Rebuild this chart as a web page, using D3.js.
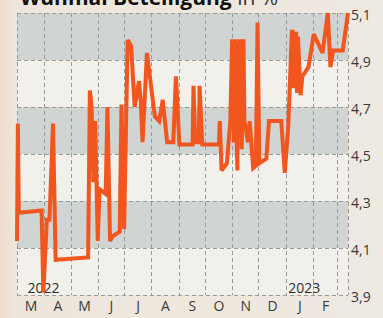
<!DOCTYPE html>
<html>
<head>
<meta charset="utf-8">
<script src="https://cdn.jsdelivr.net/npm/d3@7"></script>
<style>
  html, body { margin: 0; padding: 0; background: #eee8df; overflow: hidden; }
  svg { display: block; }
</style>
</head>
<body>
<svg id="chart" width="383" height="318"></svg>
<script>
const dates = [
  "2022-03-01", "2022-03-02", "2022-03-03", "2022-03-29", "2022-03-31", "2022-04-04", "2022-04-07",
  "2022-04-11", "2022-04-14", "2022-05-21", "2022-05-23", "2022-05-25", "2022-05-27", "2022-05-29",
  "2022-06-01", "2022-06-03", "2022-06-10", "2022-06-12", "2022-06-15", "2022-06-18", "2022-06-26",
  "2022-06-28", "2022-07-01", "2022-07-05", "2022-07-09", "2022-07-13", "2022-07-18", "2022-07-20",
  "2022-07-22", "2022-07-27", "2022-08-05", "2022-08-10", "2022-08-14", "2022-08-19", "2022-08-26",
  "2022-08-29", "2022-09-02", "2022-09-17", "2022-09-18", "2022-09-20", "2022-09-24", "2022-09-25",
  "2022-09-28", "2022-10-17", "2022-10-18", "2022-10-20", "2022-10-26", "2022-10-30", "2022-11-01",
  "2022-11-02", "2022-11-03", "2022-11-04", "2022-11-05", "2022-11-06", "2022-11-07", "2022-11-08",
  "2022-11-09", "2022-11-10", "2022-11-11", "2022-11-12", "2022-11-13", "2022-11-14", "2022-11-15",
  "2022-11-19", "2022-11-21", "2022-11-25", "2022-11-28", "2022-11-30", "2022-12-02", "2022-12-10",
  "2022-12-13", "2022-12-27", "2022-12-31", "2023-01-04", "2023-01-08", "2023-01-09", "2023-01-10",
  "2023-01-11", "2023-01-12", "2023-01-13", "2023-01-14", "2023-01-15", "2023-01-18", "2023-01-20",
  "2023-01-27", "2023-02-02", "2023-02-07", "2023-02-12", "2023-02-18", "2023-02-21", "2023-02-24",
  "2023-03-07", "2023-03-13"
];
const values = [
  4.13, 4.63, 4.25, 4.26, 3.91, 4.22, 4.22,
  4.63, 4.05, 4.06, 4.77, 4.70, 4.38, 4.64,
  4.13, 4.35, 4.33, 4.70, 4.13, 4.15, 4.17,
  4.71, 4.18, 4.985, 4.96, 4.70, 4.81, 4.72,
  4.55, 4.93, 4.66, 4.64, 4.73, 4.55, 4.55,
  4.83, 4.54, 4.54, 4.79, 4.55, 4.55, 4.79,
  4.54, 4.54, 4.64, 4.43, 4.46, 4.64, 4.98,
  4.98, 4.55, 4.98, 4.98, 4.60, 4.43, 4.98,
  4.60, 4.98, 4.98, 4.52, 4.98, 4.98, 4.64,
  4.55, 4.64, 4.44, 4.45, 5.06, 4.46, 4.48,
  4.64, 4.64, 4.42, 4.62, 5.02, 5.02, 4.78,
  5.02, 4.80, 5.02, 4.76, 5.00, 4.75, 4.83,
  4.87, 5.01, 4.97, 4.93, 5.10, 4.87, 4.94,
  4.94, 5.10
];
const monthLabels = ["M", "A", "M", "J", "J", "A", "S", "O", "N", "D", "J", "F"];
const yTicks = [3.9, 4.1, 4.3, 4.5, 4.7, 4.9, 5.1];
const bands = [[4.1, 4.3], [4.5, 4.7], [4.9, 5.1]];
const years = [{ label: "2022", date: "2022-03-13" }, { label: "2023", date: "2023-01-04" }];
const title = "Wunmal Beteiligung";
const unit = "in %";

const parse = d3.timeParse("%Y-%m-%d");
const series = dates.map((d, i) => ({ date: parse(d), value: values[i] }));

const svg = d3.select("#chart");
const font = "'Open Sans', sans-serif";

const x = d3.scaleTime()
  .domain([parse("2022-03-01"), parse("2023-03-13")])
  .range([17, 348]);
const y = d3.scaleLinear().domain([3.9, 5.1]).range([295, 13]);

// paper background, slightly warmer at the left edge
const grad = svg.append("defs").append("linearGradient").attr("id", "paper");
grad.append("stop").attr("offset", "0%").attr("stop-color", "#f1dccd");
grad.append("stop").attr("offset", "4%").attr("stop-color", "#eee6dc");
grad.append("stop").attr("offset", "100%").attr("stop-color", "#eee9e1");
svg.append("rect").attr("width", 383).attr("height", 318).attr("fill", "url(#paper)");

svg.append("rect")
  .attr("x", x.range()[0]).attr("y", y(5.1))
  .attr("width", x.range()[1] - x.range()[0]).attr("height", y(3.9) - y(5.1))
  .attr("fill", "#f2f0eb");

// shaded bands
svg.selectAll("rect.band")
  .data(bands)
  .enter().append("rect")
  .attr("class", "band")
  .attr("x", x.range()[0])
  .attr("y", d => y(d[1]))
  .attr("width", x.range()[1] - x.range()[0])
  .attr("height", d => y(d[0]) - y(d[1]))
  .attr("fill", "#d0d4d2");

// month gridlines
const monthStarts = d3.timeMonth.range(parse("2022-03-01"), parse("2023-03-02"));
const grid = svg.append("g")
  .attr("stroke", "#9a9a9a")
  .attr("stroke-width", 1)
  .attr("stroke-dasharray", "4,3");

grid.selectAll("line.v")
  .data(monthStarts.concat([x.domain()[1]]))
  .enter().append("line")
  .attr("x1", d => Math.round(x(d)) + 0.5)
  .attr("x2", d => Math.round(x(d)) + 0.5)
  .attr("y1", y(5.1))
  .attr("y2", y(3.9));

grid.selectAll("line.h")
  .data(yTicks)
  .enter().append("line")
  .attr("x1", x.range()[0])
  .attr("x2", x.range()[1])
  .attr("y1", d => Math.round(y(d)) + 0.5)
  .attr("y2", d => Math.round(y(d)) + 0.5);

// right axis labels
svg.append("g")
  .attr("transform", "translate(350,0)")
  .call(d3.axisRight(y).tickValues(yTicks).tickSize(0).tickPadding(1)
    .tickFormat(d => d3.format(".1f")(d).replace(".", ",")))
  .call(g => g.select(".domain").remove())
  .call(g => g.selectAll("text")
    .attr("dy", "0.45em")
    .attr("font-family", font)
    .attr("font-size", "14px")
    .attr("fill", "#3a3a3a"));

// month labels, centered in each month
const monthMids = monthStarts.slice(0, monthLabels.length)
  .map(m => new Date((+m + +d3.timeMonth.offset(m, 1)) / 2));
svg.append("g")
  .attr("transform", "translate(0,297)")
  .call(d3.axisBottom(x).tickValues(monthMids).tickSize(0).tickPadding(4)
    .tickFormat((d, i) => monthLabels[i]))
  .call(g => g.select(".domain").remove())
  .call(g => g.selectAll("text")
    .attr("font-family", font)
    .attr("font-size", "14px")
    .attr("fill", "#3a3a3a"));

// year labels
svg.selectAll("text.year")
  .data(years)
  .enter().append("text")
  .attr("x", d => x(parse(d.date)))
  .attr("y", 293)
  .attr("font-family", font)
  .attr("font-size", "14px")
  .attr("fill", "#2e2e2e")
  .text(d => d.label);

// line
const line = d3.line()
  .x(d => x(d.date))
  .y(d => y(d.value));

svg.append("path")
  .datum(series)
  .attr("d", line)
  .attr("fill", "none")
  .attr("stroke", "#f1561f")
  .attr("stroke-width", 4)
  .attr("stroke-linejoin", "miter")
  .attr("stroke-miterlimit", 3);

// title, cut off at the top edge
const t = svg.append("text")
  .attr("x", 20)
  .attr("y", 5)
  .attr("font-family", font)
  .attr("font-size", "21px")
  .attr("fill", "#111");
t.append("tspan").attr("font-weight", "bold").text(title);
t.append("tspan").attr("font-weight", "normal").attr("fill", "#333").text(" " + unit);
</script>
</body>
</html>
